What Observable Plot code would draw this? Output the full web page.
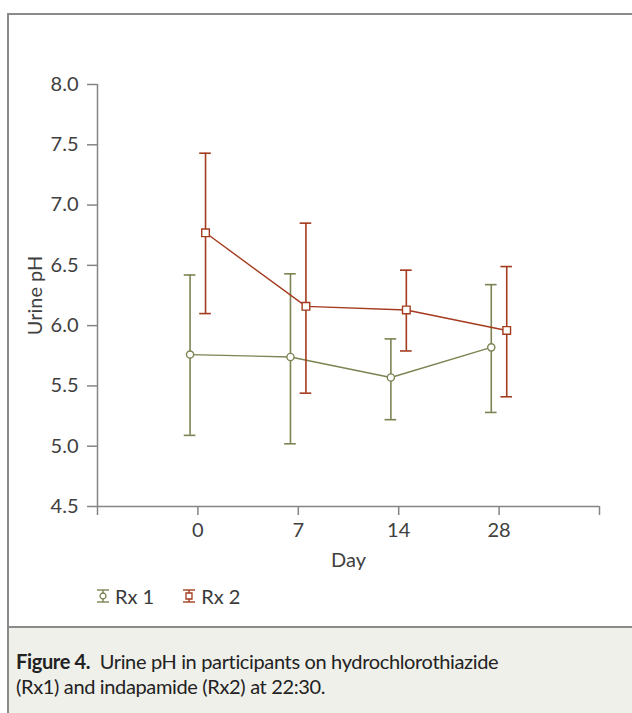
<!DOCTYPE html>
<html>
<head>
<meta charset="utf-8">
<script src="https://cdn.jsdelivr.net/npm/d3@7"></script>
<script src="https://cdn.jsdelivr.net/npm/@observablehq/plot@0.6"></script>
<style>
  html, body { margin: 0; padding: 0; background: #fff; }
  body { width: 632px; height: 713px; position: relative; overflow: hidden; font-family: Lato, "Open Sans", sans-serif; }
  #frame { position: absolute; left: 7px; top: 13px; width: 625px; height: 700px; border-left: 2px solid #8a8a8a; border-top: 2px solid #8a8a8a; box-sizing: border-box; }
  #chart { position: absolute; left: 9px; top: 15px; }
  #legend { position: absolute; left: 96px; top: 584px; height: 24px; display: flex; align-items: center; font-size: 20px; color: #3a3a3a; }
  #legend .item { display: flex; align-items: center; margin-right: 28px; }
  #legend svg { margin-right: 5px; }
  #caption { position: absolute; left: 9px; top: 626px; width: 623px; height: 87px; background: #f0f0ea; border-top: 2px solid #8a8a8a; box-sizing: border-box; padding: 21px 8px 0 7px; font-size: 20px; line-height: 25px; letter-spacing: -0.35px; color: #222; }
  #caption b { font-weight: 700; }
</style>
</head>
<body>
<div id="frame"></div>
<div id="chart"></div>
<div id="legend"></div>
<div id="caption"><b>Figure 4.</b>&nbsp; Urine pH in participants on hydrochlorothiazide<br>(Rx1) and indapamide (Rx2) at 22:30.</div>
<script>
// ---- data ----
const days = ["0", "7", "14", "28"];
const seriesNames = ["Rx 1", "Rx 2"];
const rx1Mean  = [5.76, 5.74, 5.57, 5.82];
const rx1Upper = [6.42, 6.43, 5.89, 6.34];
const rx1Lower = [5.09, 5.02, 5.22, 5.28];
const rx2Mean  = [6.77, 6.16, 6.13, 5.96];
const rx2Upper = [7.43, 6.85, 6.46, 6.49];
const rx2Lower = [6.10, 5.44, 5.79, 5.41];
const yTicks = [4.5, 5.0, 5.5, 6.0, 6.5, 7.0, 7.5, 8.0];

// ---- styling / layout ----
const colors = {"Rx 1": "#7d8352", "Rx 2": "#a43b1e"};
const symbols = {"Rx 1": "circle", "Rx 2": "square"};
const offsets = {"Rx 1": -0.078, "Rx 2": 0.076};
const capHalf = 0.058;
const xDomain = [-1, days.length];
const yDomain = [yTicks[0], yTicks[yTicks.length - 1]];
const axisColor = "#858585";
const textColor = "#404040";

const rows = [];
[[seriesNames[0], rx1Mean, rx1Upper, rx1Lower], [seriesNames[1], rx2Mean, rx2Upper, rx2Lower]].forEach(([s, m, u, l]) => {
  days.forEach((d, i) => rows.push({series: s, day: d, idx: i, x: i + offsets[s], mean: m[i], hi: u[i], lo: l[i]}));
});

const marks = [];
// axis lines
marks.push(Plot.ruleX([xDomain[0]], {x: d => d, y1: yDomain[0], y2: yDomain[1], stroke: axisColor, strokeWidth: 1.5}));
marks.push(Plot.ruleY([yDomain[0]], {y: d => d, x1: xDomain[0], x2: xDomain[1], stroke: axisColor, strokeWidth: 1.5}));
marks.push(Plot.axisY({ticks: yTicks, tickFormat: d => d.toFixed(1), tickSize: 10, tickPadding: 9, stroke: axisColor, strokeWidth: 1.5, fill: textColor, fontSize: 20, label: null}));
marks.push(Plot.axisX({ticks: d3.range(xDomain[0], xDomain[1] + 1), tickFormat: d => days[d] ?? "", tickSize: 9, tickPadding: 7, stroke: axisColor, strokeWidth: 1.5, fill: textColor, fontSize: 20, label: null}));
marks.push(Plot.text(["Urine pH"], {frameAnchor: "left", textAnchor: "middle", lineAnchor: "middle", rotate: -90, dx: -62, fill: textColor, fontSize: 20}));
marks.push(Plot.text(["Day"], {frameAnchor: "bottom", textAnchor: "middle", lineAnchor: "middle", dy: 54, fill: textColor, fontSize: 20}));

for (const s of seriesNames) {
  const data = rows.filter(r => r.series === s);
  const c = colors[s];
  marks.push(Plot.line(data, {x: "x", y: "mean", stroke: c, strokeWidth: 1.4}));
  marks.push(Plot.ruleX(data, {x: "x", y1: "lo", y2: "hi", stroke: c, strokeWidth: 1.6}));
  marks.push(Plot.ruleY(data, {y: "hi", x1: d => d.x - capHalf, x2: d => d.x + capHalf, stroke: c, strokeWidth: 1.6}));
  marks.push(Plot.ruleY(data, {y: "lo", x1: d => d.x - capHalf, x2: d => d.x + capHalf, stroke: c, strokeWidth: 1.6}));
}
for (const s of seriesNames) {
  const data = rows.filter(r => r.series === s);
  marks.push(Plot.dot(data, {x: "x", y: "mean", symbol: symbols[s], r: s === "Rx 1" ? 3.6 : 4.3, fill: "white", stroke: colors[s], strokeWidth: 1.4}));
}

const chart = Plot.plot({
  width: 623,
  height: 560,
  marginLeft: 88,
  marginRight: 33,
  marginTop: 69,
  marginBottom: 69,
  x: {type: "linear", domain: xDomain},
  y: {type: "linear", domain: yDomain},
  style: {fontFamily: "Lato, 'Open Sans', sans-serif", fontSize: "20px", background: "transparent", overflow: "visible"},
  marks
});
document.getElementById("chart").appendChild(chart);

// legend
const legend = d3.select("#legend");
for (const s of seriesNames) {
  const item = legend.append("div").attr("class", "item");
  const svg = item.append("svg").attr("width", 14).attr("height", 14);
  const c = colors[s];
  svg.append("line").attr("x1", 7).attr("x2", 7).attr("y1", 1).attr("y2", 13).attr("stroke", c).attr("stroke-width", 1.4);
  svg.append("line").attr("x1", 1).attr("x2", 13).attr("y1", 1).attr("y2", 1).attr("stroke", c).attr("stroke-width", 1.4);
  svg.append("line").attr("x1", 1).attr("x2", 13).attr("y1", 13).attr("y2", 13).attr("stroke", c).attr("stroke-width", 1.4);
  svg.append("path").attr("d", d3.symbol(symbols[s] === "circle" ? d3.symbolCircle : d3.symbolSquare, symbols[s] === "circle" ? 28 : 36)()).attr("transform", "translate(7,7)").attr("fill", "white").attr("stroke", c).attr("stroke-width", 1.3);
  item.append("span").text(s);
}
</script>
</body>
</html>
